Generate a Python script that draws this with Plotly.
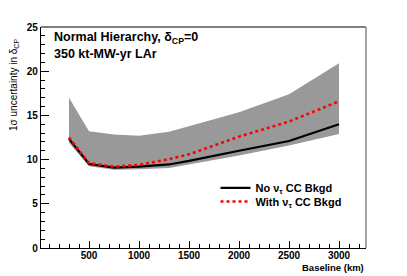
import plotly.graph_objects as go

baseline = [300, 500, 750, 1000, 1300, 1500, 2000, 2500, 3000]
band_upper = [17.0, 13.2, 12.85, 12.7, 13.15, 13.8, 15.35, 17.4, 20.9]
band_lower = [11.9, 9.25, 8.85, 8.9, 9.05, 9.45, 10.45, 11.6, 12.9]
no_bkgd = [12.35, 9.5, 9.1, 9.2, 9.45, 9.85, 11.0, 12.1, 14.0]
with_bkgd = [12.5, 9.6, 9.2, 9.4, 10.05, 10.6, 12.6, 14.3, 16.6]

FONT = "Liberation Sans"
GRAY = "rgb(153,153,153)"

fig = go.Figure()
fig.add_trace(go.Scatter(x=baseline, y=band_lower, mode="lines",
                         line=dict(width=0, color=GRAY), showlegend=False,
                         hoverinfo="skip"))
fig.add_trace(go.Scatter(x=baseline, y=band_upper, mode="lines",
                         line=dict(width=0, color=GRAY), fill="tonexty",
                         fillcolor=GRAY, showlegend=False, hoverinfo="skip"))
fig.add_trace(go.Scatter(x=baseline, y=no_bkgd, mode="lines",
                         line=dict(color="black", width=2.2),
                         name="No ν<sub>τ</sub> CC Bkgd", legend="legend"))
fig.add_trace(go.Scatter(x=baseline, y=with_bkgd, mode="lines",
                         line=dict(color="red", width=2.6, dash="dot"),
                         name="With ν<sub>τ</sub> CC Bkgd", legend="legend2"))

tickfont = dict(family=FONT, size=10, color="black", weight="bold")
legfont = dict(family=FONT, size=11, color="black", weight="bold")

fig.update_layout(
    width=407, height=276,
    margin=dict(l=41, r=41, t=27, b=28),
    paper_bgcolor="white", plot_bgcolor="white",
    showlegend=True,
    legend=dict(x=0.537, y=0.338, xanchor="left", yanchor="top",
                bgcolor="rgba(0,0,0,0)", itemwidth=30, font=legfont),
    legend2=dict(x=0.537, y=0.276, xanchor="left", yanchor="top",
                 bgcolor="rgba(0,0,0,0)", itemwidth=30, font=legfont),
    xaxis=dict(range=[20, 3270], showgrid=False, zeroline=False,
               showline=True, linecolor="black", linewidth=1.3,
               ticks="inside", ticklen=7, tickwidth=1.2, tickcolor="black",
               tick0=0, dtick=500, tickfont=tickfont, ticklabelstandoff=-2,
               minor=dict(dtick=100, ticks="inside", ticklen=3.5,
                          tickwidth=1, tickcolor="black")),
    yaxis=dict(range=[0, 25], showgrid=False, zeroline=False,
               showline=True, linecolor="black", linewidth=1.3,
               ticks="inside", ticklen=8, tickwidth=1.2, tickcolor="black",
               tick0=0, dtick=5, tickfont=tickfont,
               minor=dict(dtick=1, ticks="inside", ticklen=4,
                          tickwidth=1, tickcolor="black")),
    shapes=[
        dict(type="line", xref="paper", yref="paper", x0=0, x1=1, y0=1, y1=1,
             line=dict(color="#555555", width=1.3)),
        dict(type="line", xref="paper", yref="paper", x0=1, x1=1, y0=0, y1=1,
             line=dict(color="#999999", width=1.8)),
    ],
    annotations=[
        dict(text="Normal Hierarchy, δ<sub>CP</sub>=0", xref="paper", yref="paper",
             x=0.034, y=0.95, xanchor="left", yanchor="middle", showarrow=False,
             font=dict(family=FONT, size=12.5, color="black", weight="bold")),
        dict(text="350 kt-MW-yr LAr", xref="paper", yref="paper",
             x=0.034, y=0.878, xanchor="left", yanchor="middle", showarrow=False,
             font=dict(family=FONT, size=12.5, color="black", weight="bold")),
        dict(text="1σ uncertainty in δ<sub>CP</sub>", xref="paper", yref="paper",
             x=-0.083, y=0.955, xanchor="center", yanchor="top", showarrow=False,
             textangle=-90,
             font=dict(family=FONT, size=10, color="black")),
        dict(text="Baseline (km)", xref="paper", yref="paper",
             x=1.0, y=-0.087, xanchor="right", yanchor="middle", showarrow=False,
             font=dict(family=FONT, size=9.5, color="black", weight="bold")),
    ],
)

fig.write_html("out.html", config={"displayModeBar": False},
               post_script="document.body.style.margin='0';document.body.style.overflow='hidden';")
